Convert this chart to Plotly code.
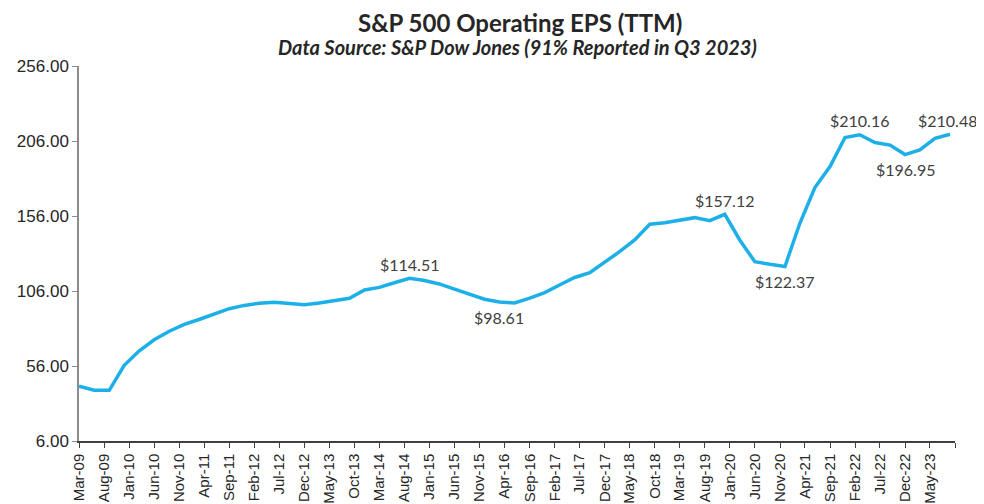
import plotly.graph_objects as go

# Quarter-end dates (placed at the month), Mar-09 .. Sep-23
quarters = []
for yr in range(2009, 2024):
    for m in (3, 6, 9, 12):
        if yr == 2023 and m == 12:
            continue
        quarters.append(f"{yr}-{m:02d}-01")

eps_ttm = [
    42.5, 39.8, 39.8, 56.5,
    66.0, 73.5, 79.2, 83.8,
    87.0, 90.5, 94.2, 96.4,
    97.8, 98.5, 97.5, 96.8,
    98.0, 99.3, 101.1, 106.7,
    108.4, 111.5, 114.51, 113.0,
    110.7, 107.2, 103.8, 100.5,
    98.61, 98.0, 101.2, 104.9,
    110.0, 115.0, 118.2, 124.9,
    132.2, 140.0, 150.5, 151.5,
    153.3, 154.9, 152.9, 157.12,
    140.0, 125.5, 123.8, 122.37,
    151.0, 175.0, 189.0, 208.3,
    210.16, 205.0, 203.3, 196.95,
    200.0, 207.8, 210.48,
]

# Labelled points
label_dates = ["2014-09-01", "2016-03-01", "2019-12-01", "2020-12-01",
               "2022-03-01", "2022-12-01", "2023-09-01"]
label_pos = ["above", "below", "above", "below", "above", "below", "above"]

# x-axis ticks every 5 months
month_names = ["Jan", "Feb", "Mar", "Apr", "May", "Jun", "Jul", "Aug",
               "Sep", "Oct", "Nov", "Dec"]
tick_vals = []
tick_text = []
y, m = 2009, 3
while (y, m) <= (2023, 10):
    tick_vals.append(f"{y}-{m:02d}-01")
    tick_text.append("" if (y, m) == (2023, 10) else f"{month_names[m - 1]}-{y % 100:02d}")
    m += 5
    if m > 12:
        m -= 12
        y += 1

y_ticks = [6, 56, 106, 156, 206, 256]

fig = go.Figure()
fig.add_trace(go.Scatter(
    x=quarters, y=eps_ttm, mode="lines",
    line=dict(color="#1DB0E8", width=3.5),
    hoverinfo="x+y", showlegend=False,
))

val_by_date = dict(zip(quarters, eps_ttm))
for i, (d, pos) in enumerate(zip(label_dates, label_pos)):
    v = val_by_date[d]
    fig.add_annotation(
        x=d, y=v, xref="x", yref="y", text=f"${v:.2f}", showarrow=False,
        yshift=14 if pos == "above" else -15,
        xshift=-3 if i == len(label_dates) - 1 else 0,
        font=dict(family="Lato", size=16, color="#404040"),
    )

# page is rendered with an 8px body margin -> figure spans page px 8..984 / 8..504
PLOT_TOP, PLOT_BOTTOM = 66, 441
def paper_y(page_y):
    return (PLOT_BOTTOM - page_y) / (PLOT_BOTTOM - PLOT_TOP)

fig.add_annotation(
    x=0.503, y=paper_y(22), xref="paper", yref="paper",
    xanchor="center", yanchor="middle",
    text="<b>S&P 500 Operating EPS (TTM)</b>", showarrow=False,
    font=dict(family="Lato", size=24, color="#262626"),
)
fig.add_annotation(
    x=0.5, y=paper_y(47), xref="paper", yref="paper",
    xanchor="center", yanchor="middle",
    text="<b><i>Data Source: S&P Dow Jones (91% Reported in Q3 2023)</i></b>",
    showarrow=False,
    font=dict(family="Lato", size=20, color="#262626"),
)

fig.update_layout(
    width=976, height=496,
    margin=dict(l=71, r=29, t=58, b=63),
    paper_bgcolor="white", plot_bgcolor="white",
    xaxis=dict(
        type="date", range=["2009-03-01", "2023-10-01"],
        tickmode="array", tickvals=tick_vals, ticktext=tick_text,
        tickangle=-90, ticks="outside", ticklen=5, tickcolor="#404040",
        showline=True, linecolor="#404040", linewidth=1.5,
        showgrid=False, zeroline=False, automargin=False,
        tickfont=dict(family="Liberation Sans", size=15, color="#262626"),
    ),
    yaxis=dict(
        range=[6, 256], tickmode="array", tickvals=y_ticks,
        ticktext=[f"{v:.2f}" for v in y_ticks],
        ticks="outside", ticklen=5, tickcolor="#8c8c8c",
        showline=True, linecolor="#8c8c8c", linewidth=1.5,
        showgrid=False, zeroline=False, automargin=False,
        tickfont=dict(family="Liberation Sans", size=17, color="#262626"),
    ),
)

fig.write_html("out.html")
